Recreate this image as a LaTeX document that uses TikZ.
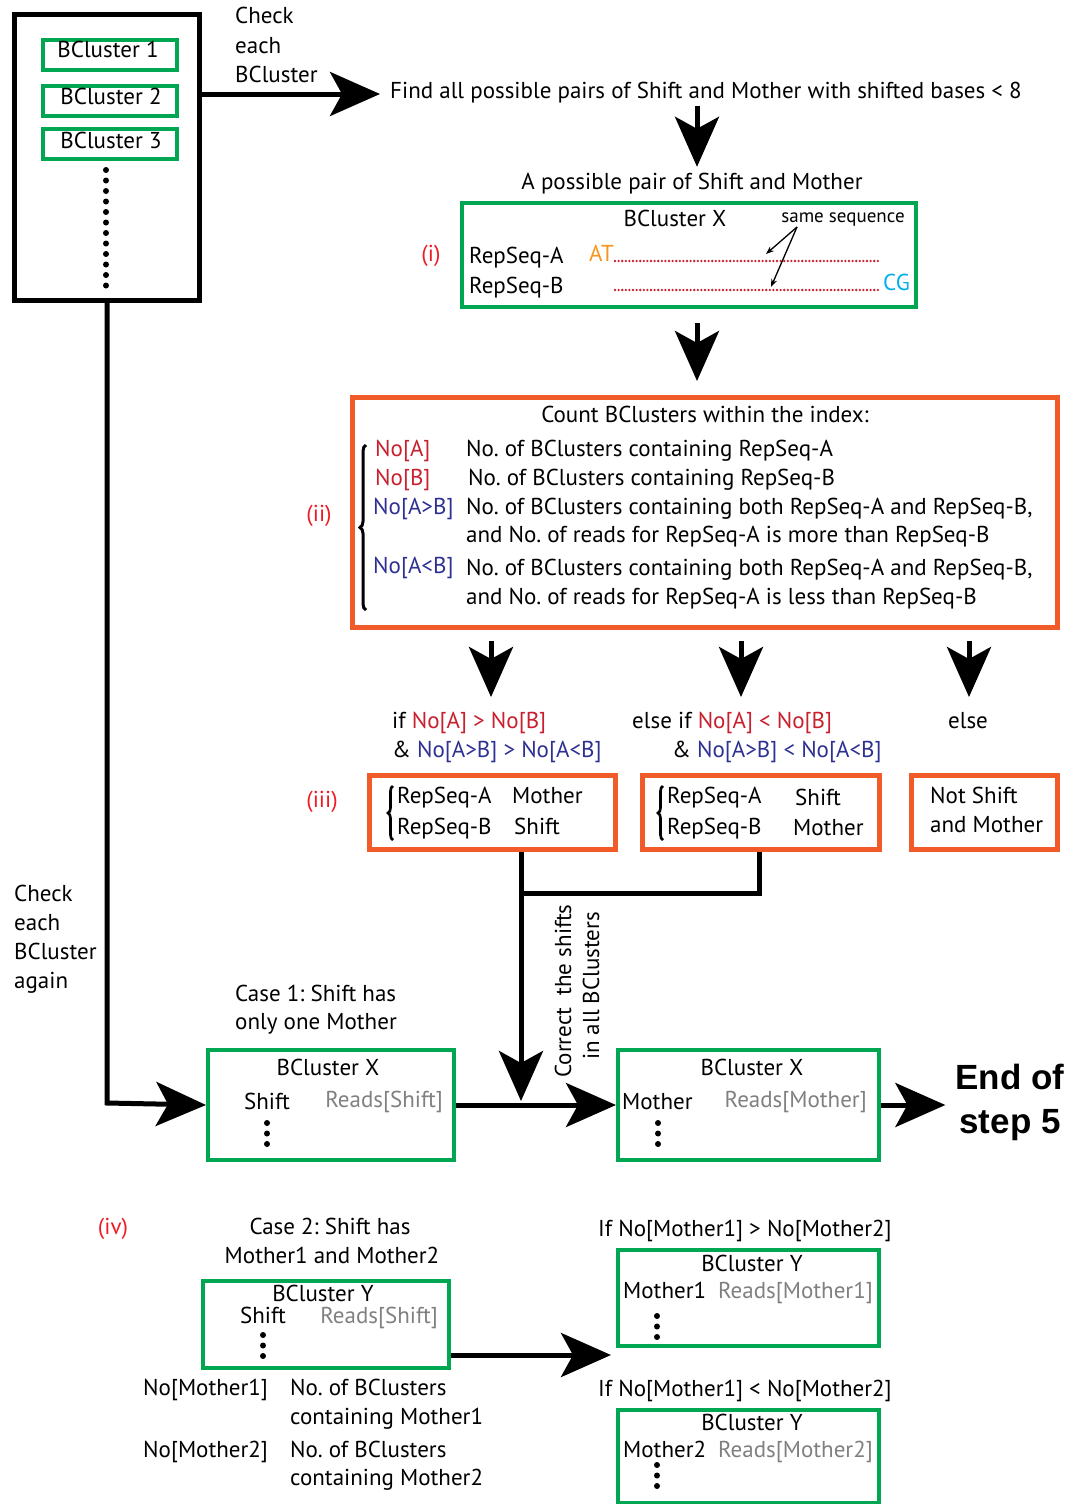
\documentclass[tikz,border=0pt]{standalone}
\usepackage{fontspec}
\setmainfont{PT Sans}
\newfontfamily\endfont{Liberation Sans}
\usetikzlibrary{arrows.meta,decorations.pathreplacing}
\frenchspacing
\definecolor{bgreen}{RGB}{0,166,81}
\definecolor{borange}{RGB}{241,90,41}
\definecolor{lred}{RGB}{237,28,36}
\definecolor{nred}{RGB}{200,32,46}
\definecolor{nblue}{RGB}{46,49,146}
\definecolor{atorange}{RGB}{247,148,29}
\definecolor{cgblue}{RGB}{0,174,239}
\definecolor{rgray}{RGB}{128,128,128}
\newcommand\tl[4]{\node[t,anchor=west] (#1) at (#2,#3) {#4};}
\newcommand\tc[4]{\node[t,anchor=center] (#1) at (#2,#3) {#4};}
\newcommand\dotcol[3]{\foreach \k in {0,...,#3}{\fill (#1,#2+\k*10.5) circle (3pt);}}
\begin{document}
\begin{tikzpicture}[x=1pt,y=-1pt,
  t/.style={inner sep=0pt,text height=16pt,text depth=6pt,font=\fontsize{23}{27}\selectfont\frenchspacing},
  gbox/.style={draw=bgreen,line width=4pt,anchor=north west,inner sep=0pt},
  obox/.style={draw=borange,line width=5pt,anchor=north west,inner sep=0pt},
  kbox/.style={draw=black,line width=5pt,anchor=north west,inner sep=0pt},
  arr/.style={line width=5pt,-{Stealth[length=50pt,width=44pt,inset=12pt]}},
  conn/.style={line width=5pt},
  thinarr/.style={line width=1.3pt,-{Stealth[length=8pt,width=6pt]}},
  seqdots/.style={nred,line width=2.6pt,line cap=round,dash pattern=on 0pt off 3.6pt},
  brc/.style={decorate,decoration={brace,amplitude=6pt},line width=3pt}]
\useasboundingbox (0,0) rectangle (1071,1504);
% ---------- top-left box ----------
\node[kbox,minimum width=185pt,minimum height=286pt] (top) at (12,12) {};
\node[gbox,minimum width=134pt,minimum height=30pt] (bc1) at (41,38) {};
\node[gbox,minimum width=134pt,minimum height=30pt] (bc2) at (41,84) {};
\node[gbox,minimum width=134pt,minimum height=30pt] (bc3) at (41,127) {};
\tc{bc1t}{108}{53}{BCluster 1}
\tc{bc2t}{111}{99}{BCluster 2}
\tc{bc3t}{111}{143}{BCluster 3}
\dotcol{106}{170}{11}
\tl{chk1}{235}{19}{Check}
\tl{chk2}{235}{48}{each}
\tl{chk3}{235}{77}{BCluster}
\tl{find}{390}{94}{Find all possible pairs of Shift and Mother with shifted bases < 8}
\draw[arr,shorten >=10pt] (top.east |- find.west) -- (find.west);
% ---------- (i) ----------
\coordinate (xa) at (697,0);
\coordinate (fa) at (697,106);
\tc{pairlbl}{692}{184}{A possible pair of Shift and Mother}
\draw[arr,shorten >=6pt] (fa) -- (fa |- pairlbl.north);
\node[gbox,minimum width=454pt,minimum height=104pt] (boxi) at (460,201) {};
\tc{bcx}{675}{221}{BCluster X}
\node[inner sep=0pt,font=\fontsize{19}{22}\selectfont] (same) at (843,220) {same sequence};
\tl{ra}{469}{258}{RepSeq-A}
\tl{rb}{469}{288}{RepSeq-B}
\tl{at}{589}{256}{\textcolor{atorange}{AT}}
\node[t,anchor=east] (cg) at (910,285) {\textcolor{cgblue}{CG}};
\coordinate (d1s) at (615,261);
\coordinate (d1e) at (880,261);
\coordinate (d2s) at (615,290);
\coordinate (d2e) at (880,290);
\draw[seqdots] (d1s) -- (d1e);
\draw[seqdots] (d2s) -- (d2e);
\coordinate (sq) at (797,227);
\coordinate (sqa) at (766,254);
\coordinate (sqb) at (771,287);
\draw[thinarr] (sq) -- (sqa);
\draw[thinarr] (sq) -- (sqb);
\tc{li}{431}{256}{\textcolor{lred}{(i)}}
% ---------- (ii) ----------
\node[obox,minimum width=705pt,minimum height=230pt] (boxii) at (350,395) {};
\draw[arr,shorten <=14pt,shorten >=14pt] (boxi.south -| xa) -- (boxii.north -| xa);
\tc{count}{705}{417}{Count BClusters within the index:}
\tl{noa}{375}{451}{\textcolor{nred}{No[A]}}
\tl{noad}{466}{451}{No. of BClusters containing RepSeq-A}
\tl{nob}{375}{480}{\textcolor{nred}{No[B]}}
\tl{nobd}{468}{480}{No. of BClusters containing RepSeq-B}
\tl{noab}{373}{509}{\textcolor{nblue}{No[A>B]}}
\tl{noabd1}{466}{509}{No. of BClusters containing both RepSeq-A and RepSeq-B,}
\tl{noabd2}{466}{537}{and No. of reads for RepSeq-A is more than RepSeq-B}
\tl{noba}{373}{568}{\textcolor{nblue}{No[A<B]}}
\tl{nobad1}{466}{570}{No. of BClusters containing both RepSeq-A and RepSeq-B,}
\tl{nobad2}{466}{599}{and No. of reads for RepSeq-A is less than RepSeq-B}
\coordinate (bra) at (366,610);
\coordinate (brb) at (366,445);
\draw[brc] (bra) -- (brb);
\tc{lii}{319}{516}{\textcolor{lred}{(ii)}}
% ---------- three branches ----------
\coordinate (d1) at (491,697);
\coordinate (d2) at (741,697);
\coordinate (d3) at (969,697);
\draw[arr,shorten <=11pt] (boxii.south -| d1) -- (d1);
\draw[arr,shorten <=11pt] (boxii.south -| d2) -- (d2);
\draw[arr,shorten <=11pt] (boxii.south -| d3) -- (d3);
\tl{if1}{392}{723}{if \textcolor{nred}{No[A] > No[B]}}
\tl{if2}{392}{752}{\& \textcolor{nblue}{No[A>B] > No[A<B]}}
\tl{ei1}{632}{723}{else if \textcolor{nred}{No[A] < No[B]}}
\tl{ei2}{672}{752}{\& \textcolor{nblue}{No[A>B] < No[A<B]}}
\tc{el}{968}{723}{else}
% ---------- (iii) ----------
\node[obox,minimum width=246pt,minimum height=74pt] (iii1) at (367,773) {};
\node[obox,minimum width=237pt,minimum height=74pt] (iii2) at (640,773) {};
\node[obox,minimum width=146pt,minimum height=74pt] (iii3) at (909,773) {};
\coordinate (b1a) at (393,840);
\coordinate (b1b) at (393,786);
\coordinate (b2a) at (663,840);
\coordinate (b2b) at (663,786);
\draw[brc,line width=2.6pt,decoration={amplitude=5pt}] (b1a) -- (b1b);
\draw[brc,line width=2.6pt,decoration={amplitude=5pt}] (b2a) -- (b2b);
\tl{a1}{397}{798}{RepSeq-A}
\tl{m1}{512}{798}{Mother}
\tl{b1}{397}{829}{RepSeq-B}
\tl{s1}{514}{829}{Shift}
\tl{a2}{667}{798}{RepSeq-A}
\tl{s2}{795}{800}{Shift}
\tl{b2}{667}{829}{RepSeq-B}
\tl{m2}{793}{830}{Mother}
\tl{ns1}{930}{798}{Not Shift}
\tl{ns2}{930}{827}{and Mother}
\tc{liii}{322}{802}{\textcolor{lred}{(iii)}}
% ---------- Case 1 ----------
\tl{chk4}{14}{896}{Check}
\tl{chk5}{14}{925}{each}
\tl{chk6}{14}{954}{BCluster}
\tl{chk7}{14}{983}{again}
\tl{c1a}{235}{996}{Case 1: Shift has}
\tl{c1b}{235}{1024}{only one Mother}
\node[gbox,minimum width=246pt,minimum height=110pt] (case1) at (206,1048) {};
\tc{c1x}{328}{1070}{BCluster X}
\tl{c1s}{244}{1104}{Shift}
\node[t,anchor=east] (c1r) at (443,1102) {\textcolor{rgray}{Reads[Shift]}};
\dotcol{267}{1123}{2}
\node[gbox,minimum width=261pt,minimum height=110pt] (mbox) at (616,1048) {};
\tc{mx}{752}{1070}{BCluster X}
\tl{mm}{622}{1104}{Mother}
\node[t,anchor=east] (mr) at (867,1102) {\textcolor{rgray}{Reads[Mother]}};
\dotcol{658}{1123}{2}
\coordinate (lc) at (107,1103);
\coordinate (j) at (521,1101);
\coordinate (k) at (759,893);
\draw[arr] (top.south -| lc) -- (lc) -- (case1.west);
\draw[arr] (case1.east) -- (mbox.west);
\draw[arr] (iii1.south -| j) -- (j);
\draw[conn] (iii2.south -| k) -- (k) -- (k -| j);
\node[t,rotate=90,anchor=center] (corr1) at (566,991) {Correct\ \ the shifts};
\node[t,rotate=90,anchor=center] (corr2) at (594,986) {in all BClusters};
\node[inner sep=0pt,align=center,font=\endfont\bfseries\fontsize{35}{44}\selectfont] (endt) at (1010,1102) {End of\\step 5};
\draw[arr,shorten >=10pt] (mbox.east) -- (endt.west |- mbox.east);
% ---------- (iv) ----------
\tc{liv}{113}{1229}{\textcolor{lred}{(iv)}}
\tc{c2a}{330}{1229}{Case 2: Shift has}
\tc{c2b}{332}{1258}{Mother1 and Mother2}
\node[gbox,minimum width=246pt,minimum height=87pt] (case2) at (201,1279) {};
\tc{c2y}{323}{1296}{BCluster Y}
\tl{c2s}{240}{1318}{Shift}
\node[t,anchor=east] (c2r) at (438,1318) {\textcolor{rgray}{Reads[Shift]}};
\dotcol{263}{1335}{2}
\tl{nm1}{143}{1390}{No[Mother1]}
\tl{nm1d}{290}{1390}{No. of BClusters}
\tl{nm1e}{290}{1419}{containing Mother1}
\tl{nm2}{143}{1452}{No[Mother2]}
\tl{nm2d}{290}{1452}{No. of BClusters}
\tl{nm2e}{290}{1480}{containing Mother2}
\coordinate (c2t) at (611,1355);
\draw[arr] (case2.east |- c2t) -- (c2t);
\tl{if3}{598}{1231}{If No[Mother1] > No[Mother2]}
\node[gbox,minimum width=261pt,minimum height=96pt] (m1box) at (616,1248) {};
\tc{m1y}{752}{1266}{BCluster Y}
\tl{m1m}{623}{1293}{Mother1}
\node[t,anchor=east] (m1r) at (873,1293) {\textcolor{rgray}{Reads[Mother1]}};
\dotcol{657}{1316}{2}
\tl{if4}{598}{1391}{If No[Mother1] < No[Mother2]}
\node[gbox,minimum width=261pt,minimum height=93pt] (m2box) at (616,1408) {};
\tc{m2y}{752}{1425}{BCluster Y}
\tl{m2m}{623}{1452}{Mother2}
\node[t,anchor=east] (m2r) at (873,1452) {\textcolor{rgray}{Reads[Mother2]}};
\dotcol{657}{1465}{2}
\end{tikzpicture}
\end{document}
